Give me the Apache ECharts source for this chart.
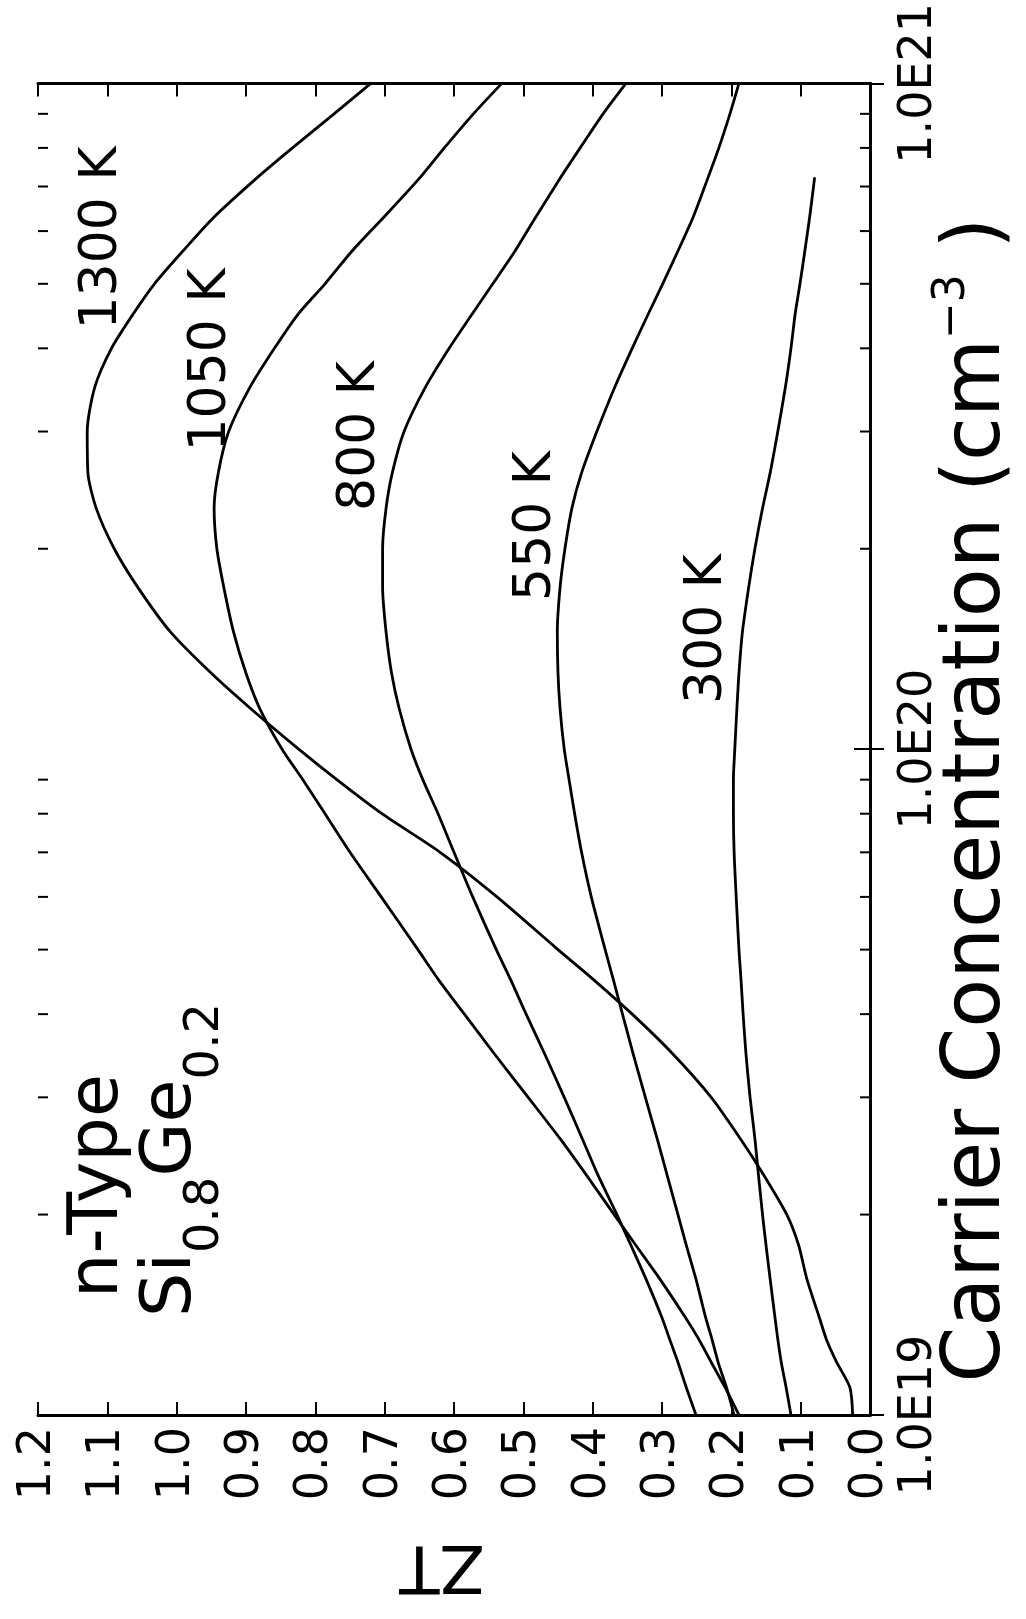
<!DOCTYPE html>
<html>
<head>
<meta charset="utf-8">
<script src="https://cdn.jsdelivr.net/npm/echarts@6/dist/echarts.min.js"></script>
<style>
html,body{margin:0;padding:0;background:#fff;}
#chart{width:1026px;height:1619px;}
</style>
</head>
<body>
<div id="chart"></div>
<script>
// Carrier concentration (cm^-3)
const carrierConc = [1.0e19, 1.1e19, 1.2e19, 1.3e19, 1.4e19, 1.6e19, 1.8e19, 2.0e19, 2.3e19, 2.6e19,
  3.0e19, 3.5e19, 4.0e19, 4.5e19, 5.0e19, 6.0e19, 7.0e19, 8.0e19, 9.0e19, 1.0e20,
  1.15e20, 1.3e20, 1.5e20, 1.75e20, 2.0e20, 2.3e20, 2.6e20, 3.0e20, 3.5e20, 4.0e20,
  4.5e20, 5.0e20, 5.6e20, 6.3e20, 7.2e20, 8.0e20, 9.0e20, 1.0e21];

// ZT values for each temperature
const zt1300 = [0.025, 0.029, 0.048, 0.063, 0.073, 0.091, 0.103, 0.120, 0.154, 0.187,
  0.229, 0.286, 0.343, 0.398, 0.450, 0.538, 0.620, 0.704, 0.769, 0.824,
  0.893, 0.950, 1.009, 1.056, 1.090, 1.116, 1.128, 1.129, 1.118, 1.094,
  1.063, 1.032, 0.991, 0.946, 0.885, 0.833, 0.773, 0.720];
const zt1050 = [0.189, 0.209, 0.229, 0.247, 0.266, 0.303, 0.338, 0.369, 0.410, 0.447,
  0.493, 0.543, 0.585, 0.622, 0.652, 0.705, 0.750, 0.786, 0.818, 0.848,
  0.880, 0.900, 0.918, 0.932, 0.942, 0.946, 0.940, 0.925, 0.894, 0.859,
  0.825, 0.786, 0.747, 0.701, 0.650, 0.614, 0.572, 0.531];
const zt800 = [0.251, 0.265, 0.277, 0.289, 0.300, 0.323, 0.345, 0.365, 0.393, 0.415,
  0.441, 0.470, 0.496, 0.518, 0.539, 0.573, 0.600, 0.623, 0.645, 0.662,
  0.679, 0.690, 0.698, 0.703, 0.703, 0.698, 0.689, 0.672, 0.641, 0.607,
  0.574, 0.544, 0.512, 0.482, 0.447, 0.418, 0.385, 0.352];
const zt550 = [0.196, 0.207, 0.219, 0.228, 0.237, 0.251, 0.265, 0.277, 0.293, 0.307,
  0.324, 0.342, 0.357, 0.370, 0.382, 0.402, 0.416, 0.426, 0.434, 0.441,
  0.447, 0.450, 0.451, 0.447, 0.440, 0.430, 0.416, 0.394, 0.368, 0.343,
  0.320, 0.299, 0.277, 0.255, 0.234, 0.218, 0.202, 0.189];
const zt300 = [0.114, 0.121, 0.128, 0.133, 0.137, 0.144, 0.150, 0.155, 0.161, 0.166,
  0.173, 0.179, 0.183, 0.186, 0.189, 0.193, 0.196, 0.197, 0.197, 0.195,
  0.192, 0.189, 0.184, 0.175, 0.166, 0.155, 0.144, 0.133, 0.122, 0.114,
  0.108, 0.101, 0.094, 0.087, 0.080, null, null, null];

const seriesNames = ['1300 K', '1050 K', '800 K', '550 K', '300 K'];
const ztTickLabels = ['0.0','0.1','0.2','0.3','0.4','0.5','0.6','0.7','0.8','0.9','1.0','1.1','1.2'];
const concTickLabels = ['1.0E19', '1.0E20', '1.0E21'];
const concMinorTicks = [2e19, 3e19, 4e19, 5e19, 6e19, 7e19, 8e19, 9e19,
  2e20, 3e20, 4e20, 5e20, 6e20, 7e20, 8e20, 9e20];

const FONT = "'DejaVu Sans ExtraLight', 'DejaVu Sans', sans-serif";
const INK = '#000';

function pairs(zt) {
  const out = [];
  carrierConc.forEach((c, i) => { if (zt[i] !== null) out.push([zt[i], c]); });
  return out;
}

const allZt = [zt1300, zt1050, zt800, zt550, zt300];
const lineSeries = allZt.map((zt, k) => ({
  name: seriesNames[k],
  type: 'line',
  xAxisIndex: 0,
  yAxisIndex: 0,
  data: pairs(zt),
  showSymbol: false,
  smooth: 0.25,
  lineStyle: { color: INK, width: 2.8, cap: 'round', join: 'round' },
  z: 4,
  silent: true
}));

const minorTickSeries = {
  type: 'custom',
  xAxisIndex: 0,
  yAxisIndex: 0,
  silent: true,
  z: 5,
  clip: false,
  data: concMinorTicks.map(v => [0, v]),
  encode: { x: 0, y: 1 },
  renderItem: function (params, api) {
    const cs = params.coordSys;
    const y = api.coord([0, api.value(1)])[1];
    const xr = cs.x + cs.width;
    const xl = cs.x;
    return {
      type: 'group',
      children: [
        { type: 'line', shape: { x1: xr, y1: y, x2: xr - 10, y2: y }, style: { stroke: INK, lineWidth: 2 } },
        { type: 'line', shape: { x1: xl, y1: y, x2: xl + 10, y2: y }, style: { stroke: INK, lineWidth: 2 } }
      ]
    };
  }
};

const axisLineStyle = { show: true, lineStyle: { color: INK, width: 3 } };

const option = {
  animation: false,
  backgroundColor: '#fff',
  grid: { left: 38, right: 156, top: 78, bottom: 204, containLabel: false },
  xAxis: [
    {
      type: 'value', min: 0, max: 1.2, interval: 0.1, inverse: true, position: 'bottom',
      axisLine: axisLineStyle,
      axisTick: { show: true, inside: true, length: 13, lineStyle: { color: INK, width: 2 } },
      splitLine: { show: false },
      axisLabel: {
        show: true, rotate: 90, margin: 12, color: INK, fontSize: 46, fontFamily: FONT,
        formatter: v => ztTickLabels[Math.round(v * 10)]
      }
    },
    {
      type: 'value', min: 0, max: 1.2, interval: 0.1, inverse: true, position: 'top',
      axisLine: axisLineStyle,
      axisTick: { show: true, inside: true, length: 13, lineStyle: { color: INK, width: 2 } },
      splitLine: { show: false },
      axisLabel: { show: false }
    }
  ],
  yAxis: [
    {
      type: 'log', logBase: 10, min: 1e19, max: 1e21, position: 'right',
      axisLine: axisLineStyle,
      axisTick: { show: true, inside: true, length: 16, lineStyle: { color: INK, width: 2 } },
      splitLine: { show: false },
      minorTick: { show: false },
      axisLabel: {
        show: true, rotate: 90, margin: 26, color: INK, fontSize: 46, fontFamily: FONT,
        formatter: v => concTickLabels[Math.round(Math.log10(v)) - 19]
      }
    },
    {
      type: 'log', logBase: 10, min: 1e19, max: 1e21, position: 'left',
      axisLine: axisLineStyle,
      axisTick: { show: true, inside: true, length: 14, lineStyle: { color: INK, width: 2 } },
      splitLine: { show: false },
      axisLabel: { show: false }
    }
  ],
  series: lineSeries.concat([minorTickSeries]),
  graphic: [
    { type: 'text', x: 102, y: 238, rotation: Math.PI / 2, silent: true,
      style: { text: seriesNames[0], fontSize: 52, fontFamily: FONT, fill: INK, align: 'center', verticalAlign: 'middle' } },
    { type: 'text', x: 211, y: 360, rotation: Math.PI / 2, silent: true,
      style: { text: seriesNames[1], fontSize: 52, fontFamily: FONT, fill: INK, align: 'center', verticalAlign: 'middle' } },
    { type: 'text', x: 360, y: 436, rotation: Math.PI / 2, silent: true,
      style: { text: seriesNames[2], fontSize: 52, fontFamily: FONT, fill: INK, align: 'center', verticalAlign: 'middle' } },
    { type: 'text', x: 536, y: 526, rotation: Math.PI / 2, silent: true,
      style: { text: seriesNames[3], fontSize: 52, fontFamily: FONT, fill: INK, align: 'center', verticalAlign: 'middle' } },
    { type: 'text', x: 707, y: 629, rotation: Math.PI / 2, silent: true,
      style: { text: seriesNames[4], fontSize: 52, fontFamily: FONT, fill: INK, align: 'center', verticalAlign: 'middle' } },
    { type: 'text', x: 99, y: 1186, rotation: Math.PI / 2, silent: true,
      style: { text: 'n-Type', fontSize: 70, fontFamily: FONT, fill: INK, align: 'center', verticalAlign: 'middle' } },
    { type: 'text', x: 172, y: 1160, rotation: Math.PI / 2, silent: true,
      style: {
        text: '{m|Si}{s|0.8}{m|Ge}{s|0.2}', align: 'center', verticalAlign: 'middle',
        rich: {
          m: { fontSize: 70, lineHeight: 116, fontFamily: FONT, fill: INK, verticalAlign: 'middle' },
          s: { fontSize: 48, lineHeight: 48, fontFamily: FONT, fill: INK, verticalAlign: 'bottom' }
        }
      } },
    { type: 'text', x: 978, y: 800, rotation: Math.PI / 2, silent: true,
      style: {
        text: '{m|Carrier Concentration (cm}{s|\u22123}{m| )}', align: 'center', verticalAlign: 'middle',
        rich: {
          m: { fontSize: 80, lineHeight: 94, fontFamily: FONT, fill: INK, verticalAlign: 'middle' },
          s: { fontSize: 44, lineHeight: 44, fontFamily: FONT, fill: INK, verticalAlign: 'top' }
        }
      } },
    { type: 'text', x: 442, y: 1563, rotation: Math.PI, silent: true,
      style: { text: 'ZT', fontSize: 66, fontFamily: FONT, fill: INK, align: 'center', verticalAlign: 'middle' } }
  ]
};

const chart = echarts.init(document.getElementById('chart'), null, { renderer: 'canvas' });
chart.setOption(option);
</script>
</body>
</html>
